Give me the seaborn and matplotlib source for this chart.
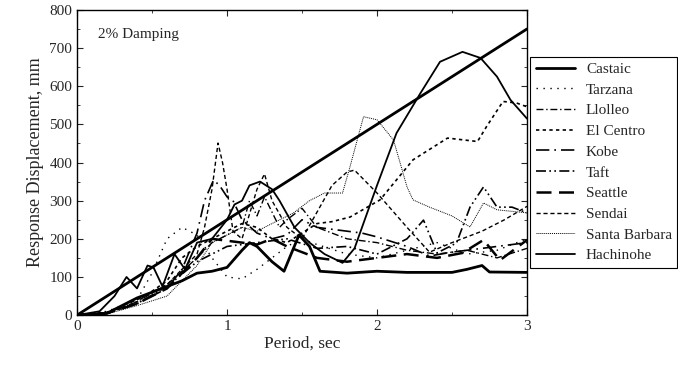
import numpy as np
import pandas as pd
import matplotlib
matplotlib.use("Agg")
import matplotlib.pyplot as plt
import seaborn as sns
from matplotlib.ticker import MultipleLocator

# design line (straight)
design_T = [0, 3.0]
design_D = [0, 750]

castaic_T = [0, 0.2, 0.3, 0.4, 0.5, 0.6, 0.7, 0.8, 0.9, 1.0, 1.1, 1.15, 1.2, 1.3, 1.38, 1.48,
             1.55, 1.62, 1.8, 2.0, 2.2, 2.5, 2.6, 2.7, 2.75, 3.0]
castaic_D = [0, 5, 25, 45, 60, 75, 90, 110, 115, 125, 170, 190, 180, 140, 115, 210,
             180, 115, 110, 115, 112, 112, 120, 130, 113, 112]

tarzana_T = [0, 0.2, 0.4, 0.5, 0.6, 0.7, 0.8, 0.9, 1.0, 1.1, 1.2, 1.3, 1.4, 1.5, 1.6,
             1.8, 2.0, 2.2, 2.4, 2.6, 2.8, 3.0]
tarzana_D = [0, 10, 40, 110, 200, 230, 210, 150, 100, 95, 120, 150, 180, 200, 185,
             160, 150, 170, 190, 160, 170, 200]

llolleo_T = [0, 0.2, 0.4, 0.6, 0.8, 0.9, 1.0, 1.1, 1.15, 1.2, 1.25, 1.3, 1.35, 1.4, 1.5,
             1.6, 1.8, 2.0, 2.2, 2.4, 2.6, 2.8, 3.0]
llolleo_D = [0, 5, 35, 80, 150, 190, 210, 230, 300, 260, 310, 270, 230, 250, 280,
             230, 200, 190, 170, 160, 170, 150, 175]

elcentro_T = [0, 0.2, 0.4, 0.6, 0.7, 0.8, 0.9, 1.0, 1.1, 1.2, 1.3, 1.4, 1.5, 1.6, 1.7,
              1.82, 2.02, 2.24, 2.47, 2.67, 2.73, 2.84, 2.93, 3.0]
elcentro_D = [0, 5, 35, 90, 150, 180, 200, 220, 240, 230, 200, 190, 215, 240, 245,
              257, 302, 407, 464, 455, 494, 560, 556, 546]

kobe_T = [0, 0.2, 0.4, 0.6, 0.7, 0.8, 0.85, 0.91, 0.95, 1.0, 1.04, 1.1, 1.2, 1.3, 1.4,
          1.5, 1.6, 1.7, 1.8, 1.9, 2.0, 2.2, 2.35, 2.5, 2.6, 2.8, 3.0]
kobe_D = [0, 5, 30, 70, 120, 215, 300, 354, 340, 310, 300, 250, 215, 200, 210,
          250, 230, 225, 220, 215, 205, 180, 155, 165, 170, 180, 190]

taft_T = [0, 0.2, 0.4, 0.6, 0.8, 1.0, 1.2, 1.4, 1.6, 1.8, 2.0, 2.2, 2.31, 2.4, 2.53,
          2.62, 2.71, 2.8, 2.9, 3.0]
taft_D = [0, 5, 30, 75, 140, 180, 190, 200, 175, 180, 160, 200, 249, 163, 189,
          283, 336, 283, 283, 268]

seattle_T = [0, 0.2, 0.4, 0.6, 0.8, 0.9, 1.0, 1.1, 1.2, 1.3, 1.4, 1.6, 1.8, 2.0, 2.2,
             2.4, 2.57, 2.71, 2.82, 3.0]
seattle_D = [0, 5, 30, 70, 150, 200, 195, 190, 185, 200, 180, 150, 140, 150, 160,
             150, 163, 197, 144, 197]

sendai_T = [0, 0.2, 0.4, 0.6, 0.7, 0.8, 0.85, 0.9, 0.94, 0.97, 1.0, 1.04, 1.1, 1.2, 1.25,
            1.3, 1.4, 1.5, 1.6, 1.7, 1.8, 1.85, 2.0, 2.2, 2.35, 2.5, 2.7, 2.85, 3.0]
sendai_D = [0, 8, 40, 80, 120, 160, 230, 330, 451, 400, 330, 220, 200, 330, 370,
            300, 230, 200, 270, 340, 375, 380, 320, 230, 165, 190, 220, 250, 285]

sbarbara_T = [0, 0.2, 0.4, 0.6, 0.7, 0.8, 0.9, 1.0, 1.1, 1.2, 1.3, 1.44, 1.55, 1.65, 1.77,
              1.82, 1.91, 2.0, 2.11, 2.2, 2.24, 2.35, 2.5, 2.62, 2.71, 2.8, 3.0]
sbarbara_D = [0, 3, 25, 50, 90, 130, 190, 210, 230, 220, 240, 267, 300, 320, 320,
              389, 520, 512, 459, 336, 302, 283, 260, 231, 294, 276, 268]

hachinohe_T = [0, 0.15, 0.25, 0.33, 0.4, 0.47, 0.51, 0.57, 0.65, 0.72, 0.8, 0.9, 1.0, 1.05,
               1.1, 1.15, 1.22, 1.3, 1.35, 1.45, 1.55, 1.65, 1.77, 1.85, 1.91, 2.0, 2.13,
               2.29, 2.42, 2.57, 2.69, 2.8, 2.89, 3.0]
hachinohe_D = [0, 10, 50, 100, 70, 130, 125, 75, 160, 120, 190, 200, 250, 290,
               300, 340, 350, 330, 300, 230, 190, 160, 137, 175, 241, 340, 477,
               582, 664, 690, 674, 625, 564, 515]

records = [
    ("Castaic", castaic_T, castaic_D, "-", 2.0),
    ("Tarzana", tarzana_T, tarzana_D, (0, (1, 4)), 1.0),
    ("Llolleo", llolleo_T, llolleo_D, (0, (5, 2, 1, 2)), 1.0),
    ("El Centro", elcentro_T, elcentro_D, (0, (2, 2)), 1.2),
    ("Kobe", kobe_T, kobe_D, (0, (8, 3, 1, 3)), 1.2),
    ("Taft", taft_T, taft_D, (0, (6, 2, 1, 2, 1, 2)), 1.2),
    ("Seattle", seattle_T, seattle_D, (0, (6, 3)), 1.8),
    ("Sendai", sendai_T, sendai_D, (0, (3, 2)), 1.0),
    ("Santa Barbara", sbarbara_T, sbarbara_D, (0, (1, 1)), 0.7),
    ("Hachinohe", hachinohe_T, hachinohe_D, "-", 1.3),
]

sns.set_style("ticks")
plt.rcParams['font.family'] = ['Liberation Serif', 'DejaVu Serif']

fig = plt.figure(figsize=(6.78, 3.66), dpi=100)
ax = fig.add_axes([0.1136, 0.139, 0.6637, 0.834])

sns.lineplot(x=design_T, y=design_D, ax=ax, color="black", linewidth=2.0)

for name, t, d, ls, lw in records:
    df = pd.DataFrame({"T": t, "D": d})
    sns.lineplot(data=df, x="T", y="D", ax=ax, color="black", linestyle=ls,
                 linewidth=lw, label=name, sort=False)

ax.set_xlim(0, 3)
ax.set_ylim(0, 800)
ax.xaxis.set_major_locator(MultipleLocator(1))
ax.xaxis.set_minor_locator(MultipleLocator(0.5))
ax.yaxis.set_major_locator(MultipleLocator(100))
ax.yaxis.set_minor_locator(MultipleLocator(50))
ax.tick_params(which="both", direction="in", top=True, right=True, labelsize=11)
ax.tick_params(which="major", length=4)
ax.tick_params(which="minor", length=2)
for sp in ax.spines.values():
    sp.set_linewidth(1.0)
    sp.set_color("black")

ax.set_xlabel("Period, sec", fontsize=12.5, labelpad=2)
ax.set_ylabel("Response Displacement, mm", fontsize=13)
ax.text(0.14, 735, "2% Damping", fontsize=11, va="center")

leg = ax.legend(loc="upper left", bbox_to_anchor=(1.007, 0.846), frameon=True,
                fancybox=False, edgecolor="black", framealpha=1, fontsize=11,
                handlelength=2.6, handletextpad=0.7, borderpad=0.35,
                labelspacing=0.46, borderaxespad=0)
leg.get_frame().set_linewidth(0.8)

fig.savefig("out.png", dpi=100)
